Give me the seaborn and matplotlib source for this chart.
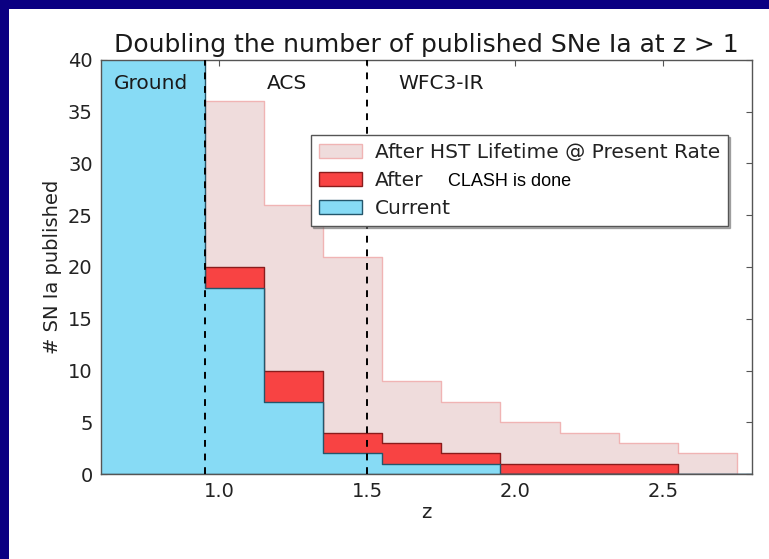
import matplotlib
matplotlib.use("Agg")
import matplotlib.pyplot as plt
import matplotlib.patches as mpatches
import numpy as np
import seaborn as sns

# bin edges in redshift
z_edges_current = [0.5, 0.95, 1.15, 1.35, 1.55, 1.75, 1.95, 2.15, 2.35, 2.55, 2.75, 2.9]
n_current = [45, 18, 7, 2, 1, 1, 0, 0, 0, 0, 0]

z_edges_clash = [0.95, 1.15, 1.35, 1.55, 1.75, 1.95, 2.15, 2.35, 2.55]
n_clash = [20, 10, 4, 3, 2, 1, 1, 1]

z_edges_hst = [0.95, 1.15, 1.35, 1.55, 1.75, 1.95, 2.15, 2.35, 2.55, 2.75]
n_hst = [36, 26, 21, 9, 7, 5, 4, 3, 2]

instrument_bounds = [0.95, 1.5]
region_labels = ["Ground", "ACS", "WFC3-IR"]
region_x = [0.768, 1.227, 1.75]

legend_labels = ["After HST Lifetime @ Present Rate", "After", "Current"]

PINK, PINK_EDGE = "#efdcdc", "#f0b4b4"
RED, RED_EDGE = "#f84343", "#8a1c1c"
BLUE, BLUE_EDGE = "#87dbf5", "#24566b"


def centers(edges):
    e = np.asarray(edges)
    return (e[:-1] + e[1:]) / 2


sns.set_style("white")
plt.rcParams["font.family"] = ["DejaVu Sans"]

fig = plt.figure(figsize=(7.69, 5.59), dpi=100)
fig.patch.set_facecolor("white")
# navy slide border (top and left)
fig.patches.append(mpatches.Rectangle((0, 1 - 9 / 559), 1, 9 / 559, transform=fig.transFigure,
                                      facecolor="#0b0082", edgecolor="none", zorder=0))
fig.patches.append(mpatches.Rectangle((0, 0), 9 / 769, 1, transform=fig.transFigure,
                                      facecolor="#0b0082", edgecolor="none", zorder=0))

ax = fig.add_axes([101 / 769, 85 / 559, 651 / 769, 414 / 559])

for edges, counts, face, edge in [
    (z_edges_hst, n_hst, PINK, PINK_EDGE),
    (z_edges_clash, n_clash, RED, RED_EDGE),
    (z_edges_current, n_current, BLUE, BLUE_EDGE),
]:
    sns.histplot(x=centers(edges), weights=counts, bins=edges, element="step", fill=True,
                 facecolor=face, edgecolor=edge, alpha=1, linewidth=1.0, ax=ax)

for zb in instrument_bounds:
    ax.axvline(zb, color="black", linestyle="--", linewidth=1.4, dashes=(3.5, 3.5), zorder=5)

for lbl, xz in zip(region_labels, region_x):
    ax.text(xz, 37.7, lbl, ha="center", va="center", fontsize=14.5, color="#1a1a1a", zorder=6)

ax.set_xlim(0.6, 2.8)
ax.set_ylim(0, 40)
ax.set_xticks([1.0, 1.5, 2.0, 2.5])
ax.set_yticks(range(0, 41, 5))
ax.tick_params(direction="in", top=True, right=True, bottom=True, left=True,
               length=4, width=0.8, color="#555555", labelsize=14, labelcolor="#222222", pad=6)
for sp in ax.spines.values():
    sp.set_visible(True)
    sp.set_color("#555555")
    sp.set_linewidth(1.0)

ax.set_xlabel("z", fontsize=14, color="#222222", labelpad=1)
ax.set_ylabel("# SN Ia published", fontsize=14, color="#222222", labelpad=4)
ax.set_title("Doubling the number of published SNe Ia at z > 1", fontsize=18, color="#1a1a1a", pad=6)

handles = [
    mpatches.Patch(facecolor=PINK, edgecolor=PINK_EDGE),
    mpatches.Patch(facecolor=RED, edgecolor=RED_EDGE),
    mpatches.Patch(facecolor=BLUE, edgecolor=BLUE_EDGE),
]
leg = ax.legend(handles, legend_labels, loc="upper right", bbox_to_anchor=(0.963, 0.819),
                borderaxespad=0, fontsize=14.5, frameon=True, fancybox=False, edgecolor="#555555",
                handlelength=2.1, handleheight=0.75, handletextpad=0.65, labelspacing=0.45,
                borderpad=0.4, framealpha=1, shadow={"ox": 1.2, "oy": -1.2, "shade": 0.6})
leg.set_zorder(10)
for t in leg.get_texts():
    t.set_color("#222222")

# the CLASH part of the second legend entry sits after the "After" label
fig.canvas.draw()
bb = leg.get_texts()[1].get_window_extent()
fig.text(bb.x1 + 25, (bb.y0 + bb.y1) / 2 - 1, "CLASH is done", transform=None,
         fontsize=13, family="Liberation Sans", ha="left", va="center", color="black", zorder=20)

fig.savefig("out.png", dpi=100)
